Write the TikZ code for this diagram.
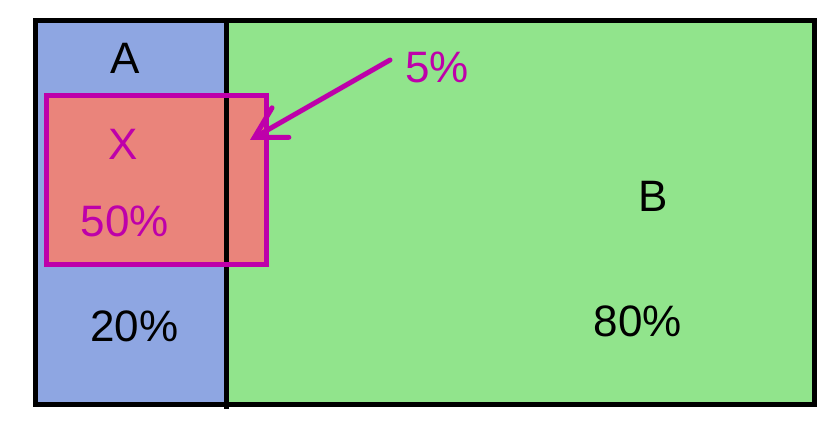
\documentclass[tikz,border=0pt]{standalone}
\usepackage{fontspec}
\setmainfont{Liberation Sans}
\usepackage{xcolor}
\usepackage{tikz}
\usetikzlibrary{arrows.meta}

\definecolor{setblue}{RGB}{142,166,226}
\definecolor{setgreen}{RGB}{145,228,140}
\definecolor{setred}{RGB}{234,132,123}
\definecolor{setmag}{RGB}{190,0,170}

\begin{document}
\begin{tikzpicture}[
  x=0.5pt, y=-0.5pt,
  lbl/.style={inner sep=0pt, font=\fontsize{22}{26}\selectfont},
  maglbl/.style={lbl, text=setmag},
  edge/.style={draw=black, line width=2.5pt},
  arr/.style={-{Straight Barb[length=15pt, width=17pt, line cap=round]},
              line width=2.5pt, draw=setmag, line cap=round},
]
\useasboundingbox (0,0) rectangle (838,421);
% the two sets
\fill[setblue]  (35,21) rectangle (226,405);
\fill[setgreen] (226,21) rectangle (814,405);
% subset X
\fill[setred] (46.5,95.5) rectangle (266,264.5);
\draw[edge] (35,21) rectangle (814,404.5);
\draw[edge] (226,21) -- (226,409);
\draw[setmag, line width=2.5pt] (46.5,95.5) rectangle (266,264.5);

\node[lbl] (a) at (125,58) {A};
\node[lbl] (b) at (653.5,196) {B};
\node[lbl] (pa) at (134.5,326) {20\%};
\node[lbl] (pb) at (638,321) {80\%};
\node[maglbl] (x) at (123.5,144) {X};
\node[maglbl] (px) at (125,221) {50\%};
\node[maglbl] (pxb) at (437,67.5) {5\%};

\coordinate (arrstart) at (390,60);
\coordinate (arrtip) at (250,140);
\draw[arr] (arrstart) -- (arrtip);
\end{tikzpicture}
\end{document}
